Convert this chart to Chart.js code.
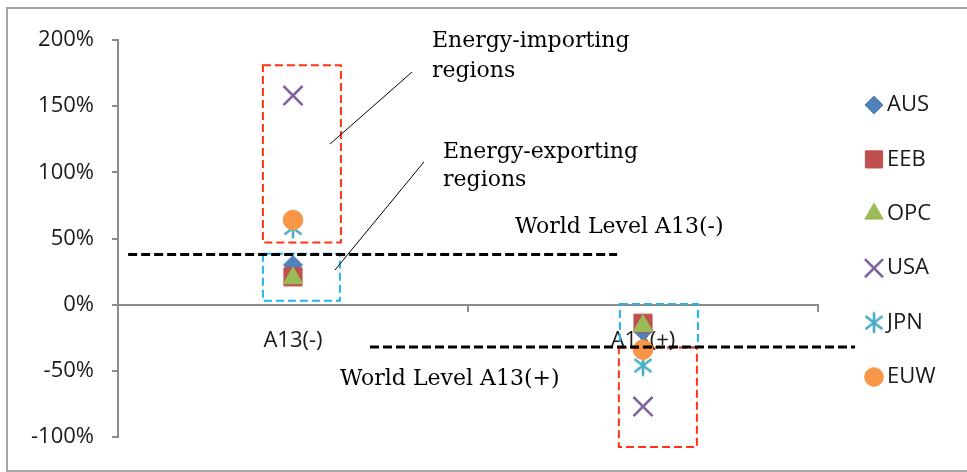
<!DOCTYPE html>
<html>
<head>
<meta charset="utf-8">
<script src="https://cdn.jsdelivr.net/npm/chart.js@4.4.1/dist/chart.umd.min.js"></script>
<style>
  html, body { margin: 0; padding: 0; background: #ffffff; }
  #frame { position: absolute; left: 6px; top: 7px; width: 1000px; height: 465px;
           border: 2px solid #a6a6a6; box-sizing: border-box; }
  #wrap { position: absolute; left: 0; top: 0; width: 967px; height: 472px; }
</style>
</head>
<body>
<div id="frame"></div>
<div id="wrap"><canvas id="chart" width="967" height="472"></canvas></div>
<script>
// Scenario categories and regional results (percent change)
const categories = ['A13(-)', 'A13(+)'];
const regionNames = ['AUS', 'EEB', 'OPC', 'USA', 'JPN', 'EUW'];
const ausValues = [30, -20];
const eebValues = [21, -14];
const opcValues = [20, -16];
const usaValues = [158, -77];
const jpnValues = [58, -46];
const euwValues = [64, -34];
// World-level averages for each scenario
const worldLevels = [38, -32];
const worldLabels = ['World Level A13(-)', 'World Level A13(+)'];
const yTickValues = [-100, -50, 0, 50, 100, 150, 200];

const seriesValues = [ausValues, eebValues, opcValues, usaValues, jpnValues, euwValues];
const seriesColors = ['#4F81BD', '#C0504D', '#9BBB59', '#8064A2', '#4BACC6', '#F79646'];

// Asterisk marker: vertical stroke plus a diagonal cross
function makeAsterisk(color) {
  const c = document.createElement('canvas');
  c.width = 22; c.height = 24;
  const g = c.getContext('2d');
  g.strokeStyle = color; g.lineWidth = 2.6; g.lineCap = 'butt';
  g.beginPath();
  g.moveTo(11, 1.5); g.lineTo(11, 22.5);
  g.moveTo(2.5, 5.5); g.lineTo(19.5, 18.5);
  g.moveTo(2.5, 18.5); g.lineTo(19.5, 5.5);
  g.stroke();
  return c;
}

const markerStyles = [
  { pointStyle: 'rectRot', radius: 9.5, borderWidth: 1 },
  { pointStyle: 'rect', radius: 12.8, borderWidth: 1 },
  { pointStyle: 'triangle', radius: 11.2, borderWidth: 1 },
  { pointStyle: 'crossRot', radius: 13.5, borderWidth: 2.6 },
  { pointStyle: makeAsterisk(seriesColors[4]), radius: 10, borderWidth: 1 },
  { pointStyle: 'circle', radius: 9.8, borderWidth: 1 }
];

const datasets = regionNames.map((name, i) => ({
  label: name,
  data: seriesValues[i],
  showLine: false,
  backgroundColor: seriesColors[i],
  borderColor: seriesColors[i],
  pointStyle: markerStyles[i].pointStyle,
  pointRadius: markerStyles[i].radius,
  pointBorderWidth: markerStyles[i].borderWidth,
  pointHoverRadius: markerStyles[i].radius,
  order: regionNames.length - i
}));

// Callout geometry in axis units (x: category index, y: percent)
const RED = '#FF3314';
const BLUE = '#22B5EA';
const calloutBoxes = [
  { x0: -0.086, x1: 0.137, y0: 181, y1: 47, color: RED },
  { x0: -0.086, x1: 0.134, y0: 38.5, y1: 3, color: BLUE },
  { x0: 0.934, x1: 1.157, y0: 0.5, y1: -32, color: BLUE },
  { x0: 0.931, x1: 1.154, y0: -32.6, y1: -107.5, color: RED }
];
const worldSpans = [[-0.471, 0.926], [0.22, 1.606]];
const worldLabelAnchors = [[0.634, 54.2], [0.134, -60.7]];
const pointerLines = [
  [0.106, 121.4, 0.34, 175.8],
  [0.12, 26.2, 0.374, 107.8]
];
const calloutTexts = [
  ['Energy-importing', 0.397, 194.7],
  ['regions', 0.397, 172],
  ['Energy-exporting', 0.4286, 110.9],
  ['regions', 0.4286, 89.7]
];

const AXIS_GREY = '#8c8c8c';
const LABEL_FONT = 'Open Sans';
const NOTE_FONT = '22px "DejaVu Serif"';

const overlayPlugin = {
  id: 'overlay',
  afterDraw(chart) {
    const { ctx } = chart;
    const xs = chart.scales.x, ys = chart.scales.y;
    const px = v => xs.getPixelForValue(v);
    const py = v => ys.getPixelForValue(v);
    ctx.save();

    // dashed callout boxes
    ctx.lineWidth = 2;
    ctx.setLineDash([8, 4]);
    calloutBoxes.forEach(b => {
      ctx.strokeStyle = b.color;
      const x0 = px(b.x0), x1 = px(b.x1), y0 = py(b.y0), y1 = py(b.y1);
      ctx.strokeRect(x0, y0, x1 - x0, y1 - y0);
    });

    // world-level dashed lines
    ctx.strokeStyle = '#000000';
    ctx.lineWidth = 3;
    ctx.setLineDash([9, 4]);
    worldLevels.forEach((lvl, i) => {
      ctx.beginPath();
      ctx.moveTo(px(worldSpans[i][0]), py(lvl));
      ctx.lineTo(px(worldSpans[i][1]), py(lvl));
      ctx.stroke();
    });

    // thin pointer lines
    ctx.setLineDash([]);
    ctx.lineWidth = 1;
    pointerLines.forEach(l => {
      ctx.beginPath();
      ctx.moveTo(px(l[0]), py(l[1]));
      ctx.lineTo(px(l[2]), py(l[3]));
      ctx.stroke();
    });

    // annotation text
    ctx.fillStyle = '#000000';
    ctx.font = NOTE_FONT;
    ctx.textAlign = 'left';
    ctx.textBaseline = 'alphabetic';
    calloutTexts.forEach(t => ctx.fillText(t[0], px(t[1]), py(t[2])));
    worldLabels.forEach((t, i) => ctx.fillText(t, px(worldLabelAnchors[i][0]), py(worldLabelAnchors[i][1])));

    // legend
    const legendX = 874, textX = 887, firstRow = 105, rowGap = 54.4;
    chart.data.datasets.forEach((ds, i) => {
      const yRow = firstRow + i * rowGap;
      ctx.fillStyle = ds.backgroundColor;
      ctx.strokeStyle = ds.borderColor;
      ctx.lineWidth = ds.pointBorderWidth;
      Chart.helpers.drawPoint(ctx, {
        pointStyle: ds.pointStyle,
        radius: ds.pointRadius * 0.95,
        borderWidth: ds.pointBorderWidth,
        rotation: 0
      }, legendX, yRow);
      ctx.fillStyle = '#1a1a1a';
      ctx.font = '22px "' + LABEL_FONT + '"';
      ctx.textBaseline = 'middle';
      ctx.fillText(ds.label, textX, yRow);
    });
    ctx.restore();
  }
};

new Chart(document.getElementById('chart'), {
  type: 'line',
  data: { labels: categories, datasets },
  plugins: [overlayPlugin],
  options: {
    responsive: false,
    animation: false,
    devicePixelRatio: 1,
    layout: { padding: { left: 8, right: 149, top: 40, bottom: 35 } },
    plugins: { legend: { display: false }, tooltip: { enabled: false } },
    scales: {
      x: {
        type: 'category',
        offset: true,
        position: { y: 0 },
        z: 1,
        grid: { display: true, offset: true, drawOnChartArea: false, drawTicks: true,
                tickLength: 6, color: AXIS_GREY, lineWidth: 2 },
        border: { display: true, color: AXIS_GREY, width: 2 },
        ticks: { font: { family: LABEL_FONT, size: 22 }, color: '#1a1a1a', padding: 17 }
      },
      y: {
        min: -100,
        max: 200,
        afterFit(scale) { scale.width = 110; },
        afterBuildTicks(scale) { scale.ticks = yTickValues.map(v => ({ value: v })); },
        grid: { display: true, drawOnChartArea: false, drawTicks: true, tickLength: 6,
                color: AXIS_GREY, lineWidth: 2 },
        border: { display: true, color: AXIS_GREY, width: 2 },
        ticks: { callback: v => v + '%', font: { family: LABEL_FONT, size: 22 },
                 color: '#1a1a1a', padding: 18 }
      }
    }
  }
});
</script>
</body>
</html>
